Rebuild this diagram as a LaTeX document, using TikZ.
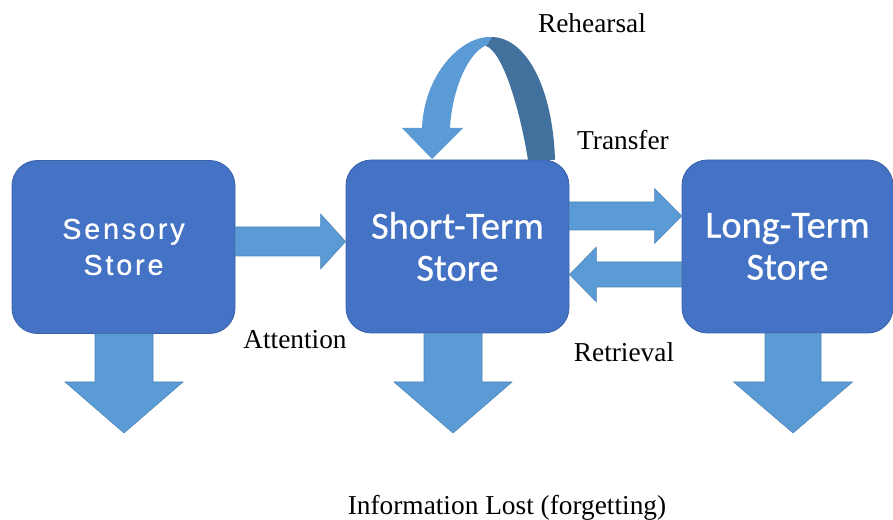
\documentclass[tikz,border=0pt]{standalone}
\usepackage{fontspec}
\setmainfont{Liberation Serif}
\newfontfamily\storefont[FakeBold=0.6]{Carlito}
\newfontfamily\sensfont[LetterSpace=10,FakeBold=0.8]{Liberation Sans}
\usetikzlibrary{calc}
\definecolor{storeblue}{HTML}{4472C4}
\definecolor{arrowblue}{HTML}{5B9BD5}
\definecolor{arrowdark}{HTML}{41719C}
\tikzset{
  store/.style={draw=storeblue!85!black, line width=0.6pt, fill=storeblue,
    rounded corners=19pt, text=white, align=center, inner sep=0pt,
    minimum height=173*0.75pt},
  blockfill/.style={fill=arrowblue, draw=arrowblue!85!black, line width=0.4pt},
  annot/.style={font=\fontsize{20.5}{24}\selectfont, inner sep=0pt}
}
% block arrow from #1 to #2: shaft half-width #3, head half-width #4, head length #5 (px)
\newcommand{\blockarrow}[5]{%
  \coordinate (ba-h) at ($(#2)!#5*0.75pt!(#1)$);
  \path[blockfill] ($(#1)!#3*0.75pt!90:(#2)$) -- ($(ba-h)!#3*0.75pt!90:(#2)$)
    -- ($(ba-h)!#4*0.75pt!90:(#2)$) -- (#2) -- ($(ba-h)!#4*0.75pt!-90:(#2)$)
    -- ($(ba-h)!#3*0.75pt!-90:(#2)$) -- ($(#1)!#3*0.75pt!-90:(#2)$) -- cycle;}
\begin{document}
\begin{tikzpicture}[x=0.75pt,y=-0.75pt]
\useasboundingbox (0,0) rectangle (893,520);

% the three stores
\node[store, minimum width=223*0.75pt, font={\sensfont\fontsize{21.5}{27}\selectfont}]
  (sens) at (123.5,247) {Sensory\\Store};
\node[store, minimum width=223*0.75pt, font={\storefont\fontsize{28.7}{31.5}\selectfont}]
  (stm) at (457.5,246.5) {Short-Term\\Store};
\node[store, minimum width=211*0.75pt, font={\storefont\fontsize{28.7}{31.5}\selectfont}]
  (ltm) at (787.5,246.5) {Long-Term\\Store};

% heights of the horizontal arrows
\coordinate (ya) at (0,241.5);
\coordinate (yt) at (0,216);
\coordinate (yr) at (0,274.5);

% horizontal flow
\coordinate (att-a) at (sens.east |- ya);
\coordinate (att-b) at (stm.west |- ya);
\blockarrow{att-a}{att-b}{14.5}{27.5}{25}
\coordinate (tr-a) at (stm.east |- yt);
\coordinate (tr-b) at (ltm.west |- yt);
\blockarrow{tr-a}{tr-b}{14}{27.5}{27}
\coordinate (re-a) at (ltm.west |- yr);
\coordinate (re-b) at (stm.east |- yr);
\blockarrow{re-a}{re-b}{12.5}{27.5}{27}

% forgetting arrows
\coordinate (s-a) at ($(sens.south)+(0.5,0)$);
\coordinate (s-b) at (124,433);
\blockarrow{s-a}{s-b}{29}{59}{51}
\coordinate (m-a) at ($(stm.south)+(-4.5,0)$);
\coordinate (m-b) at (453,433);
\blockarrow{m-a}{m-b}{29}{59}{51}
\coordinate (l-a) at ($(ltm.south)+(5.5,0)$);
\coordinate (l-b) at (793,433);
\blockarrow{l-a}{l-b}{28}{59.5}{51}

% rehearsal loop: shaded back half, then the lit front half with its head
\fill[arrowdark] (490,37) .. controls (527,36) and (553,90) .. (555,160)
  -- (528,160) .. controls (520,110) and (503,52) .. (486,46) -- cycle;
\fill[arrowblue] (492,37) .. controls (462,35) and (424,74) .. (422,128)
  -- (402,128) -- (432,159) -- (463,128) -- (450,128)
  .. controls (452,90) and (468,52) .. (487,45) -- cycle;

% labels
\node[annot] (reh) at (592,23) {Rehearsal};
\node[annot] (tra) at (623,140) {Transfer};
\node[annot] (att) at (295,340) {Attention};
\node[annot] (ret) at (624,352) {Retrieval};
\node[annot, anchor=base] (lost) at (507,514) {Information Lost (forgetting)};
\end{tikzpicture}
\end{document}
